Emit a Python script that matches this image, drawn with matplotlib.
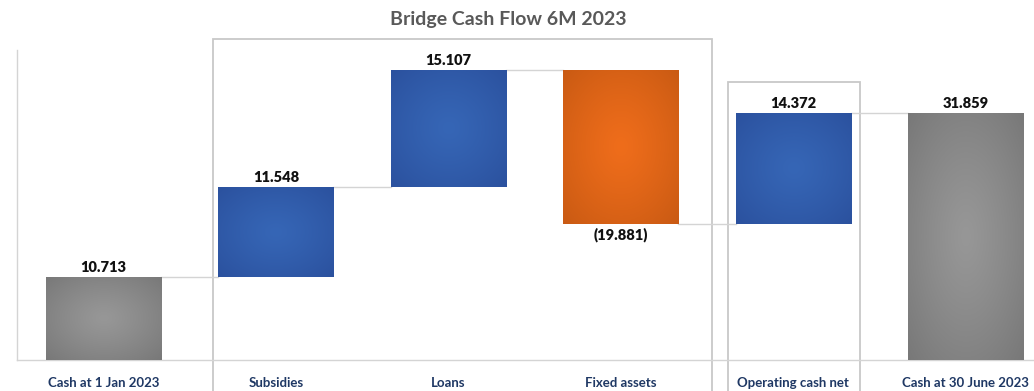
import numpy as np
import matplotlib
matplotlib.use("Agg")
import matplotlib.pyplot as plt
from matplotlib.colors import to_rgb
from matplotlib.patches import Rectangle

categories = ["Cash at 1 Jan 2023", "Subsidies", "Loans", "Fixed assets",
              "Operating cash net", "Cash at 30 June 2023"]
values = [10.713, 11.548, 15.107, -19.881, 14.372, 31.859]
is_total = [True, False, False, False, False, True]

plt.rcParams['font.family'] = ['Lato', 'DejaVu Sans']

GRADIENTS = {
    "total": ("#979797", "#787878"),
    "up": ("#3666b6", "#2b519e"),
    "down": ("#ef6d1b", "#c95a13"),
}
GRID = "#d4d4d4"


def radial_fill(c_in, c_out, n=160):
    yy, xx = np.mgrid[-1:1:n * 1j, -1:1:n * 1j]
    r = np.clip(np.sqrt(xx ** 2 + yy ** 2) / np.sqrt(2), 0, 1) ** 1.2
    a, b = np.array(to_rgb(c_in)), np.array(to_rgb(c_out))
    return a + (b - a) * r[..., None]


# waterfall bottoms / heights
bottoms, heights, kinds = [], [], []
running = 0.0
for v, tot in zip(values, is_total):
    if tot:
        bottoms.append(0.0)
        heights.append(v)
        kinds.append("total")
        running = v
    else:
        bottoms.append(running if v >= 0 else running + v)
        heights.append(abs(v))
        kinds.append("up" if v >= 0 else "down")
        running += v

fig = plt.figure(figsize=(10.34, 3.91), dpi=100)
ax = fig.add_axes([17.25 / 1034, 31 / 391, 1034.5 / 1034, 310 / 391])

x = np.arange(len(categories))
bars = ax.bar(x, heights, bottom=bottoms, width=0.667, color="none",
              linewidth=0, zorder=3)

for bar, kind in zip(bars, kinds):
    x0, y0 = bar.get_x(), bar.get_y()
    img = radial_fill(*GRADIENTS[kind])
    im = ax.imshow(img, extent=[x0, x0 + bar.get_width(), y0, y0 + bar.get_height()],
                   aspect="auto", interpolation="bilinear", zorder=3)
    im.set_clip_path(bar)

# connectors between consecutive bars
level = 0.0
for i, (v, tot) in enumerate(zip(values, is_total)):
    level = v if tot else level + v
    if i < len(values) - 1:
        ax.plot([i + 0.333, i + 1 - 0.333], [level, level], color=GRID,
                lw=1.0, zorder=2)

# value labels
for bar, v in zip(bars, values):
    cx = bar.get_x() + bar.get_width() / 2
    if v >= 0:
        ax.text(cx, bar.get_y() + bar.get_height() + 0.4, f"{v:.3f}",
                ha="center", va="bottom", fontsize=10.5, fontweight="heavy",
                color="#111111", zorder=4)
    else:
        ax.text(cx, bar.get_y() - 0.4, f"({abs(v):.3f})",
                ha="center", va="top", fontsize=10.5, fontweight="heavy",
                color="#111111", zorder=4)

# grouping frames
ax.add_patch(Rectangle((0.635, -10), 3.53 - 0.635, 41.4 + 10, fill=False,
                       edgecolor="#c8c8c8", lw=1.3, clip_on=False, zorder=1))
ax.add_patch(Rectangle((3.62, -10), 4.39 - 3.62, 35.86 + 10, fill=False,
                       edgecolor="#c8c8c8", lw=1.3, clip_on=False, zorder=1))

ax.set_xlim(-0.5, 5.5)
ax.set_ylim(0, 40)
ax.set_yticks([])
ax.set_xticks(x)
ax.set_xticklabels(categories, fontsize=9.5, fontweight="bold", color="#1f3864")
ax.tick_params(axis="x", length=0, pad=12)
for side in ("top", "right"):
    ax.spines[side].set_visible(False)
for side in ("left", "bottom"):
    ax.spines[side].set_color(GRID)
    ax.spines[side].set_linewidth(1.0)

fig.text(508 / 1034, 1 - 20 / 391, "Bridge Cash Flow 6M 2023", ha="center",
         va="center", fontsize=14, fontweight="bold", color="#595959")

fig.savefig("out.png", dpi=100)
